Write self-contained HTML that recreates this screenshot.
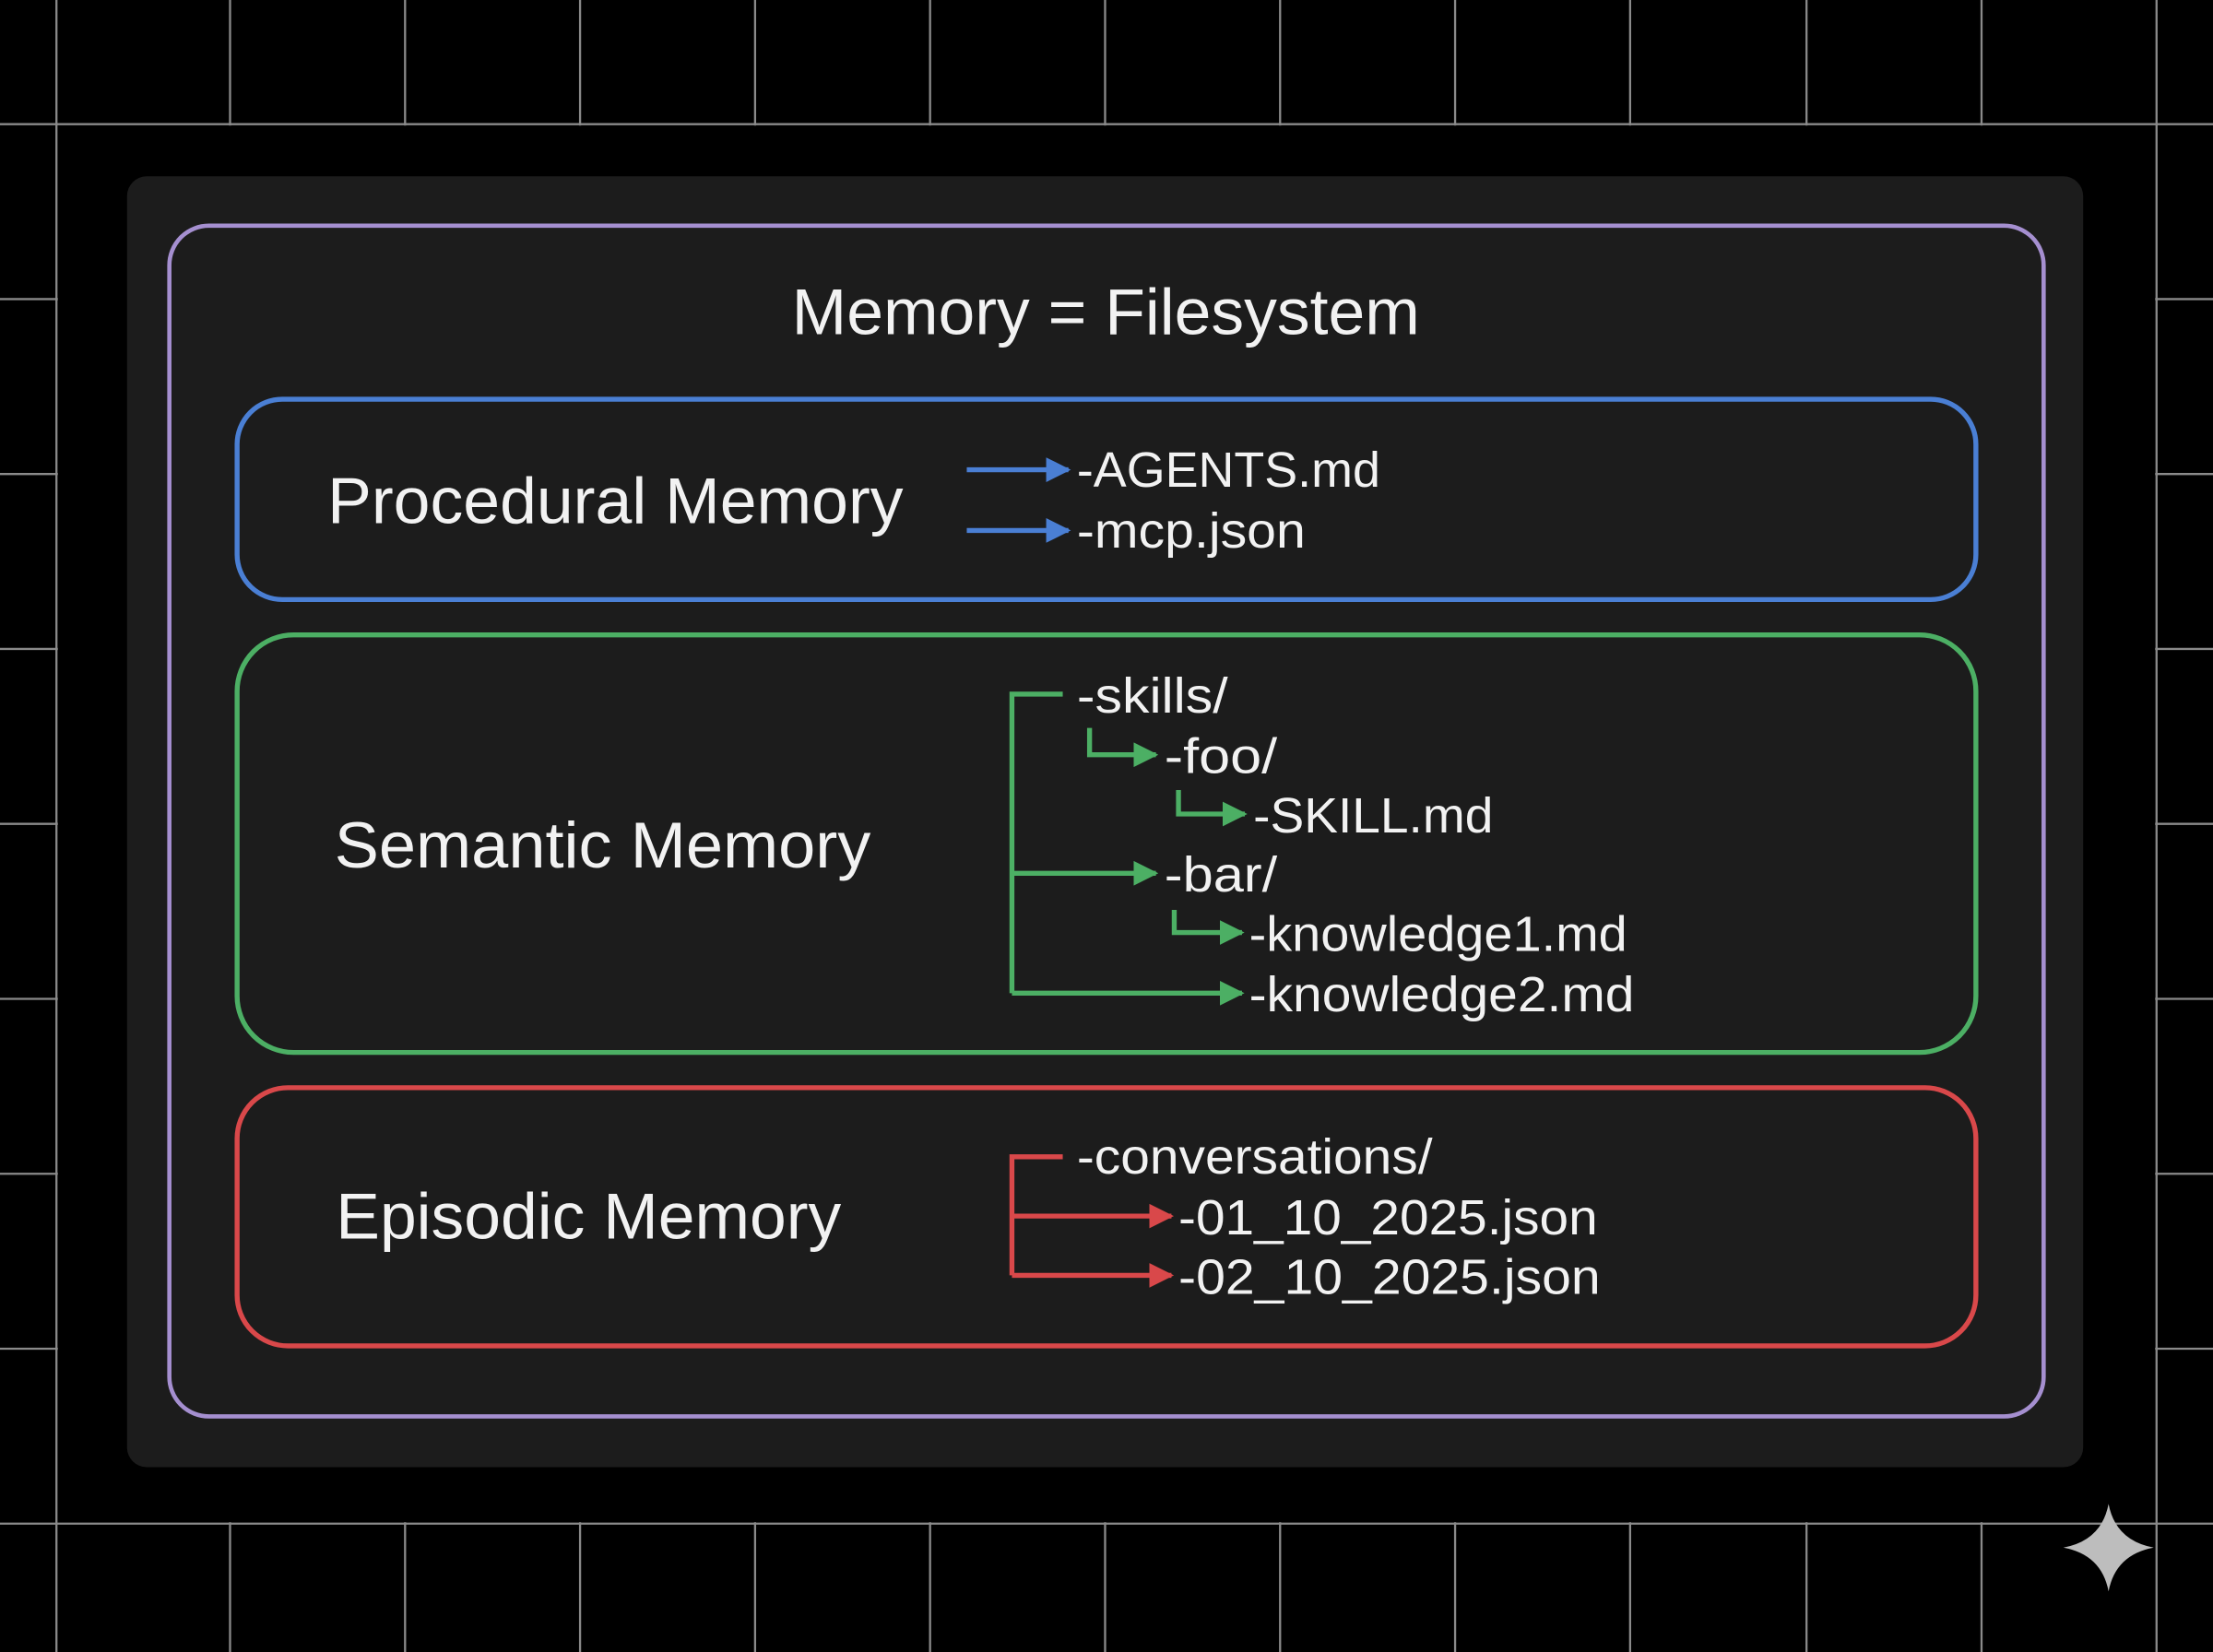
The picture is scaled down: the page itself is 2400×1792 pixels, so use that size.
<!DOCTYPE html>
<html><head><meta charset="utf-8"><style>
html,body{margin:0;padding:0;background:#000;}
svg{display:block;}
text{font-family:"Liberation Sans",sans-serif;fill:#f2f2f2;}
</style></head><body>
<svg width="2400" height="1792" viewBox="0 0 1568 1171" preserveAspectRatio="none" xmlns="http://www.w3.org/2000/svg">
<defs>
<marker id="ab" viewBox="0 0 10 10" refX="9" refY="5" markerWidth="5" markerHeight="5" orient="auto" markerUnits="strokeWidth"><path d="M0,0 L10,5 L0,10 z" fill="#4a7fd4"/></marker>
<marker id="ag" viewBox="0 0 10 10" refX="9" refY="5" markerWidth="5" markerHeight="5" orient="auto" markerUnits="strokeWidth"><path d="M0,0 L10,5 L0,10 z" fill="#4caf64"/></marker>
<marker id="ar" viewBox="0 0 10 10" refX="9" refY="5" markerWidth="5" markerHeight="5" orient="auto" markerUnits="strokeWidth"><path d="M0,0 L10,5 L0,10 z" fill="#d9484a"/></marker>
</defs>
<rect width="1568" height="1171" fill="#000"/>
<g stroke="#8a8a8a" stroke-width="1.5">
<line x1="40" y1="0" x2="40" y2="1171"/><line x1="163" y1="0" x2="163" y2="1171"/><line x1="287" y1="0" x2="287" y2="1171"/><line x1="411" y1="0" x2="411" y2="1171"/><line x1="535" y1="0" x2="535" y2="1171"/><line x1="659" y1="0" x2="659" y2="1171"/><line x1="783" y1="0" x2="783" y2="1171"/><line x1="907" y1="0" x2="907" y2="1171"/><line x1="1031" y1="0" x2="1031" y2="1171"/><line x1="1155" y1="0" x2="1155" y2="1171"/><line x1="1280" y1="0" x2="1280" y2="1171"/><line x1="1404" y1="0" x2="1404" y2="1171"/><line x1="1528" y1="0" x2="1528" y2="1171"/>
<line x1="0" y1="88" x2="1568" y2="88"/><line x1="0" y1="212" x2="1568" y2="212"/><line x1="0" y1="336" x2="1568" y2="336"/><line x1="0" y1="460" x2="1568" y2="460"/><line x1="0" y1="584" x2="1568" y2="584"/><line x1="0" y1="708" x2="1568" y2="708"/><line x1="0" y1="832" x2="1568" y2="832"/><line x1="0" y1="956" x2="1568" y2="956"/><line x1="0" y1="1080" x2="1568" y2="1080"/>
</g>
<rect x="41" y="89" width="1486" height="990" fill="#000"/>
<rect x="90" y="125" width="1386" height="915" rx="14" fill="#1c1c1c"/>
<rect x="120" y="160" width="1328" height="844" rx="28" fill="none" stroke="#a58fd0" stroke-width="3"/>
<text x="561" y="237" font-size="46" textLength="445" lengthAdjust="spacingAndGlyphs">Memory = Filesystem</text>

<rect x="168" y="283" width="1232" height="142" rx="32" fill="none" stroke="#4a7fd4" stroke-width="3.5"/>
<text x="232" y="371" font-size="46" textLength="408" lengthAdjust="spacingAndGlyphs">Procedural Memory</text>
<g stroke="#4a7fd4" stroke-width="3.5" fill="none">
<line x1="685" y1="333" x2="757" y2="333" marker-end="url(#ab)"/>
<line x1="685" y1="376" x2="757" y2="376" marker-end="url(#ab)"/>
</g>
<text x="763" y="345" font-size="35" textLength="215" lengthAdjust="spacingAndGlyphs">-AGENTS.md</text>
<text x="763" y="388" font-size="35" textLength="162" lengthAdjust="spacingAndGlyphs">-mcp.json</text>

<rect x="168" y="450" width="1232" height="296" rx="40" fill="none" stroke="#4caf64" stroke-width="3.5"/>
<text x="237" y="615" font-size="46" textLength="380" lengthAdjust="spacingAndGlyphs">Semantic Memory</text>
<g stroke="#4caf64" stroke-width="3.5" fill="none">
<polyline points="753,492 717,492 717,704"/>
<polyline points="772,516 772,535 819,535" marker-end="url(#ag)"/>
<polyline points="835,560 835,577 882,577" marker-end="url(#ag)"/>
<line x1="717" y1="619" x2="819" y2="619" marker-end="url(#ag)"/>
<polyline points="832,645 832,661 880,661" marker-end="url(#ag)"/>
<line x1="717" y1="704" x2="880" y2="704" marker-end="url(#ag)"/>
</g>
<text x="763" y="505" font-size="35" textLength="107" lengthAdjust="spacingAndGlyphs">-skills/</text>
<text x="825" y="548" font-size="35" textLength="80" lengthAdjust="spacingAndGlyphs">-foo/</text>
<text x="888" y="590" font-size="35" textLength="170" lengthAdjust="spacingAndGlyphs">-SKILL.md</text>
<text x="825" y="632" font-size="35" textLength="80" lengthAdjust="spacingAndGlyphs">-bar/</text>
<text x="885" y="674" font-size="35" textLength="268" lengthAdjust="spacingAndGlyphs">-knowledge1.md</text>
<text x="885" y="717" font-size="35" textLength="273" lengthAdjust="spacingAndGlyphs">-knowledge2.md</text>

<rect x="168" y="771" width="1232" height="183" rx="36" fill="none" stroke="#d9484a" stroke-width="3.5"/>
<text x="238" y="878" font-size="46" textLength="358" lengthAdjust="spacingAndGlyphs">Episodic Memory</text>
<g stroke="#d9484a" stroke-width="3.5" fill="none">
<polyline points="753,820 717,820 717,904"/>
<line x1="717" y1="862" x2="830" y2="862" marker-end="url(#ar)"/>
<line x1="717" y1="904" x2="830" y2="904" marker-end="url(#ar)"/>
</g>
<text x="763" y="832" font-size="35" textLength="252" lengthAdjust="spacingAndGlyphs">-conversations/</text>
<text x="835" y="875" font-size="35" textLength="297" lengthAdjust="spacingAndGlyphs">-01_10_2025.json</text>
<text x="835" y="917" font-size="35" textLength="299" lengthAdjust="spacingAndGlyphs">-02_10_2025.json</text>

<path d="M1494,1066 Q1499,1092 1526,1097 Q1499,1102 1494,1128 Q1489,1102 1462,1097 Q1489,1092 1494,1066 Z" fill="#bdbdbd"/>
</svg>
</body></html>
